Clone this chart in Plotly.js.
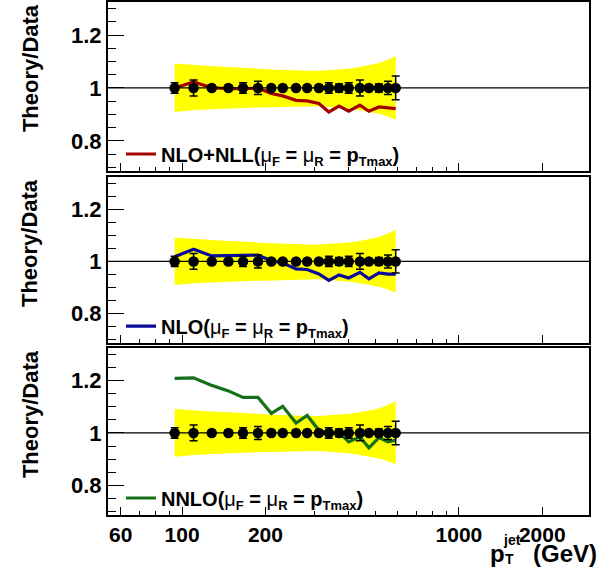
<!DOCTYPE html>
<html>
<head>
<meta charset="utf-8">
<script src="https://cdn.plot.ly/plotly-3.0.1.min.js"></script>
<style>
  html, body { margin: 0; padding: 0; background: #fff; }
  #chart { width: 605px; height: 579px; }
</style>
</head>
<body>
<div id="chart"></div>
<script>
// Jet pT bin centres (GeV)
const ptJet = [94, 110, 128, 147, 166, 188, 210, 231, 258, 283, 312, 339, 369, 400, 439, 473, 514, 554, 591];

// Data / Data = 1 with statistical errors
const dataRatio = [1, 1, 1, 1, 1, 1, 1, 1, 1, 1, 1, 1, 1, 1, 1, 1, 1, 1, 1];
const dataErr = [0.02, 0.03, 0.01, 0.01, 0.02, 0.025, 0.01, 0.01, 0.01, 0.01, 0.01, 0.02, 0.015, 0.02, 0.03, 0.01, 0.015, 0.025, 0.045];

// Systematic uncertainty band (upper / lower edge)
const bandHi = [1.092, 1.086, 1.082, 1.079, 1.077, 1.073, 1.070, 1.068, 1.067, 1.065, 1.065, 1.067, 1.069, 1.073, 1.079, 1.086, 1.094, 1.107, 1.121];
const bandLo = [0.909, 0.916, 0.919, 0.922, 0.925, 0.926, 0.927, 0.928, 0.930, 0.931, 0.931, 0.928, 0.926, 0.922, 0.916, 0.909, 0.902, 0.892, 0.880];

// Theory / Data ratios
const nloNll = [1.000, 1.023, 1.001, 0.997, 0.997, 1.000, 0.979, 0.970, 0.953, 0.951, 0.941, 0.909, 0.931, 0.912, 0.935, 0.912, 0.928, 0.926, 0.922];
const nlo    = [1.018, 1.047, 1.021, 1.021, 1.021, 1.024, 1.003, 0.994, 0.971, 0.969, 0.952, 0.927, 0.948, 0.936, 0.958, 0.933, 0.956, 0.951, 0.951];
const nnlo   = [1.209, 1.211, 1.182, 1.161, 1.136, 1.136, 1.075, 1.102, 1.038, 1.067, 1.010, 0.997, 1.001, 0.966, 0.985, 0.943, 0.982, 0.966, 0.972];

// Axis ticks
const xTickVals = [60, 100, 200, 1000, 2000];
const xTickText = ['60', '100', '200', '1000', '2000'];
const xMinorVals = [60, 70, 80, 90, 100, 200, 300, 400, 500, 600, 700, 800, 900, 1000, 2000];
const yTickVals = [0.8, 1, 1.2];
const yTickText = ['0.8', '1', '1.2'];

const muN = '<span style="font-weight:normal">μ</span>';
const sub = s => '<sub><span style="font-size:13px">' + s + '</span></sub>';
const scaleTag = '(' + muN + sub('F') + ' = ' + muN + sub('R') + ' = p' + sub('Tmax') + ')';

const panels = [
  { theory: nloNll, color: '#a30000', name: 'NLO+NLL' + scaleTag },
  { theory: nlo,    color: '#0a0a9c', name: 'NLO' + scaleTag },
  { theory: nnlo,   color: '#16701a', name: 'NNLO' + scaleTag }
];

const FONT = 'Liberation Sans, Arial, Helvetica, sans-serif';
const xRange = [Math.log10(54), Math.log10(2950)];
const yRange = [0.686, 1.325];
const domains = [[0.6706, 1], [0.3353, 0.6589], [0, 0.3255]];
const legendY = [0.7037, 0.368, 0.0331];

const traces = [];
const layout = {
  width: 605, height: 579,
  margin: { l: 108, r: 16, t: 2, b: 64 },
  paper_bgcolor: '#fff', plot_bgcolor: '#fff',
  font: { family: FONT, color: '#000' },
  showlegend: true,
  shapes: [], annotations: []
};

panels.forEach((p, i) => {
  const sfx = i === 0 ? '' : String(i + 1);
  const xa = 'x' + sfx, ya = 'y' + sfx;
  const lg = i === 0 ? 'legend' : 'legend' + (i + 1);

  traces.push({
    x: ptJet, y: bandHi, xaxis: xa, yaxis: ya, type: 'scatter', mode: 'lines',
    line: { width: 0, color: '#ffff00' }, showlegend: false, hoverinfo: 'skip'
  });
  traces.push({
    x: ptJet, y: bandLo, xaxis: xa, yaxis: ya, type: 'scatter', mode: 'lines',
    line: { width: 0, color: '#ffff00' }, fill: 'tonexty', fillcolor: '#ffff00',
    showlegend: false, hoverinfo: 'skip'
  });
  traces.push({
    x: ptJet, y: p.theory, xaxis: xa, yaxis: ya, type: 'scatter', mode: 'lines',
    line: { width: 3.2, color: p.color }, name: p.name, legend: lg, showlegend: true
  });
  traces.push({
    x: ptJet, y: dataRatio, xaxis: xa, yaxis: ya, type: 'scatter', mode: 'markers',
    marker: { symbol: 'circle', size: 10.5, color: '#000' },
    error_y: { type: 'data', array: dataErr, visible: true, color: '#000', thickness: 1.5, width: 4 },
    showlegend: false
  });

  layout['xaxis' + sfx] = {
    type: 'log', range: xRange, domain: [0, 1], anchor: ya,
    showline: true, mirror: true, linecolor: '#000', linewidth: 2,
    showgrid: false, zeroline: false,
    ticks: 'inside', ticklen: 8, tickwidth: 1, tickcolor: '#000',
    tickmode: 'array', tickvals: xTickVals, ticktext: xTickText,
    showticklabels: i === 2,
    tickfont: { family: FONT, size: 21, weight: 'bold', color: '#000' },
    minor: { tickmode: 'array', tickvals: xMinorVals, ticks: 'inside', ticklen: 4, tickcolor: '#000', showgrid: false }
  };
  layout['yaxis' + sfx] = {
    range: yRange, domain: domains[i], anchor: xa,
    showline: true, mirror: true, linecolor: '#000', linewidth: 2,
    showgrid: false, zeroline: false,
    ticks: 'inside', ticklen: 16, tickwidth: 1, tickcolor: '#000',
    tickmode: 'array', tickvals: yTickVals, ticktext: yTickText,
    tickfont: { family: FONT, size: 22, weight: 'bold', color: '#000' },
    minor: { dtick: 0.05, tick0: 0, ticks: 'inside', ticklen: 8, tickcolor: '#000', showgrid: false }
  };

  layout[lg] = {
    x: 0.027, xanchor: 'left', xref: 'paper',
    y: legendY[i], yanchor: 'middle', yref: 'paper',
    bgcolor: 'rgba(0,0,0,0)', borderwidth: 0,
    font: { family: FONT, size: 20, weight: 'bold', color: '#000' }
  };

  // reference line at ratio = 1
  layout.shapes.push({
    type: 'line', xref: xa + ' domain', x0: 0, x1: 1, yref: ya, y0: 1, y1: 1,
    line: { color: '#000', width: 1.3 }, layer: 'above'
  });

  // y-axis title
  layout.annotations.push({
    text: 'Theory/Data', textangle: -90, showarrow: false,
    xref: 'paper', x: -0.162, xanchor: 'center',
    yref: ya + ' domain', y: 1.0, yanchor: 'top',
    font: { family: FONT, size: 22, weight: 'bold', color: '#000' }
  });
});

// x-axis title: p_T^jet (GeV)
const xt = { family: FONT, weight: 'bold', color: '#000' };
layout.annotations.push(
  { text: 'p', showarrow: false, xref: 'paper', yref: 'paper', x: 0.790, y: -0.075, xanchor: 'left', yanchor: 'middle', font: Object.assign({ size: 24 }, xt) },
  { text: 'jet', showarrow: false, xref: 'paper', yref: 'paper', x: 0.817, y: -0.048, xanchor: 'left', yanchor: 'middle', font: Object.assign({ size: 14 }, xt) },
  { text: 'T', showarrow: false, xref: 'paper', yref: 'paper', x: 0.821, y: -0.086, xanchor: 'left', yanchor: 'middle', font: Object.assign({ size: 14 }, xt) },
  { text: '(GeV)', showarrow: false, xref: 'paper', yref: 'paper', x: 1.0208, y: -0.075, xanchor: 'right', yanchor: 'middle', font: Object.assign({ size: 24 }, xt) }
);

Plotly.newPlot('chart', traces, layout, { displayModeBar: false, staticPlot: true });
</script>
</body>
</html>
